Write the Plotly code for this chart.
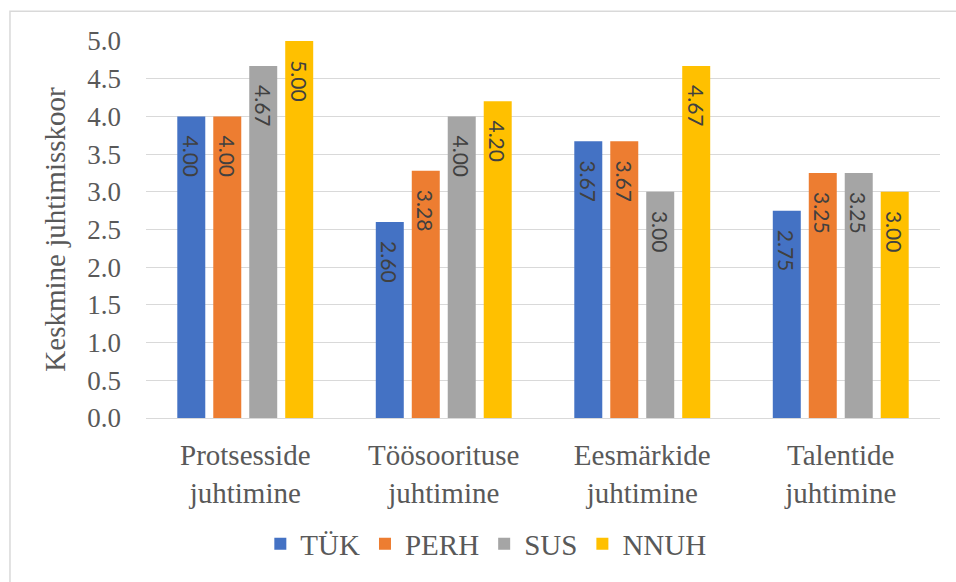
import plotly.graph_objects as go

# Management areas and the average score per organisation type
categories = ["Protsesside<br>juhtimine", "Töösoorituse<br>juhtimine",
              "Eesmärkide<br>juhtimine", "Talentide<br>juhtimine"]
series_names = ["TÜK", "PERH", "SUS", "NNUH"]
tyk = [4.00, 2.60, 3.67, 2.75]
perh = [4.00, 3.28, 3.67, 3.25]
sus = [4.67, 4.00, 3.00, 3.25]
nnuh = [5.00, 4.20, 4.67, 3.00]
y_ticks = [0.0, 0.5, 1.0, 1.5, 2.0, 2.5, 3.0, 3.5, 4.0, 4.5, 5.0]
y_title = "Keskmine juhtimisskoor"

colors = ["#4472C4", "#ED7D31", "#A5A5A5", "#FFC000"]
SERIF = "Liberation Serif"
TEXT_GREY = "#595959"
GRID = "#D9D9D9"

fig = go.Figure()
for name, vals, col in zip(series_names, [tyk, perh, sus, nnuh], colors):
    fig.add_trace(go.Bar(
        name=name,
        x=categories,
        y=vals,
        marker=dict(color=col, line=dict(width=0)),
        texttemplate="\u00a0\u00a0\u00a0%{y:.2f}",
        textposition="inside",
        insidetextanchor="end",
        textangle=90,
        constraintext="none",
        textfont=dict(family="Lato", size=21, color="#404040"),
        hoverinfo="skip",
    ))

fig.update_layout(
    width=956,
    height=582,
    margin=dict(l=146, r=16, t=41, b=161),
    paper_bgcolor="white",
    plot_bgcolor="white",
    barmode="group",
    bargap=0.275,
    bargroupgap=0.222,
    font=dict(family=SERIF, size=29, color=TEXT_GREY),
    showlegend=True,
    legend=dict(
        orientation="h",
        x=0.428, xanchor="center",
        y=-0.334, yanchor="middle",
        font=dict(family=SERIF, size=29, color=TEXT_GREY),
        bgcolor="rgba(0,0,0,0)",
        traceorder="normal",
    ),
    xaxis=dict(
        showgrid=False,
        showline=True,
        linecolor=GRID,
        linewidth=1.3,
        ticks="",
        ticklabelstandoff=11,
        tickfont=dict(family=SERIF, size=29, color=TEXT_GREY),
    ),
    yaxis=dict(
        range=[0, 5],
        tickvals=y_ticks,
        ticktext=[f"{v:.1f}" for v in y_ticks],
        showgrid=True,
        gridcolor=GRID,
        gridwidth=1.3,
        zeroline=False,
        showline=False,
        ticks="",
        ticklabelstandoff=24,
        tickfont=dict(family=SERIF, size=27, color=TEXT_GREY),
        title=dict(text=y_title, standoff=13,
                   font=dict(family=SERIF, size=29, color=TEXT_GREY)),
    ),
    shapes=[dict(
        type="rect", xref="paper", yref="paper",
        x0=-0.1713, x1=1.1, y0=-0.6, y1=1.0789,
        line=dict(color=GRID, width=1.5),
        fillcolor="rgba(0,0,0,0)",
        layer="below",
    )],
)

fig.write_html("out.html")
